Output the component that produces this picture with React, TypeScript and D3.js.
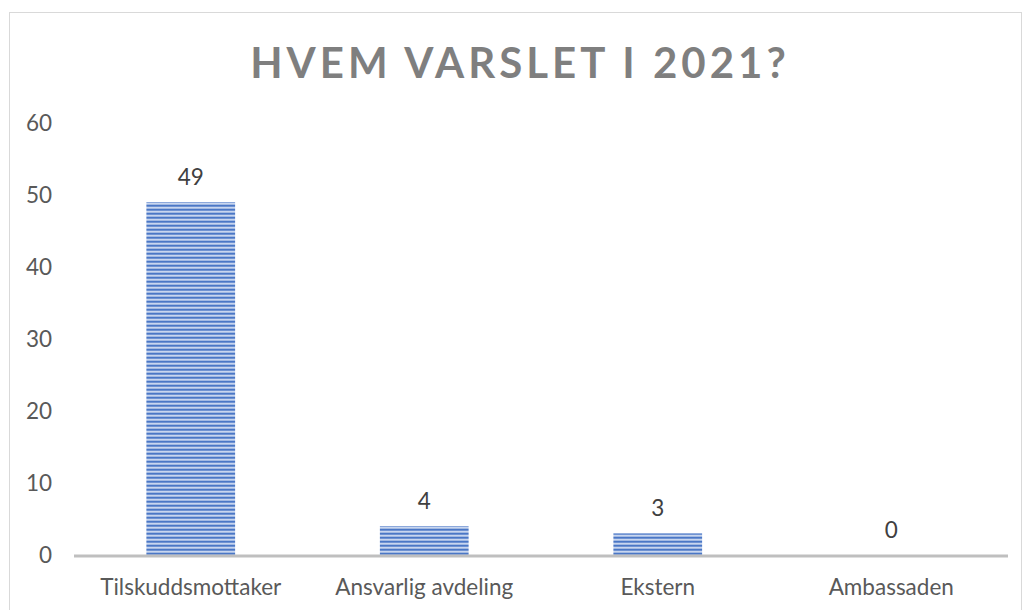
import React from "react";
import * as d3 from "d3";

const categories: string[] = ["Tilskuddsmottaker", "Ansvarlig avdeling", "Ekstern", "Ambassaden"];
const values: number[] = [49, 4, 3, 0];
const yTicks: number[] = [0, 10, 20, 30, 40, 50, 60];
const title = "HVEM VARSLET I 2021?";

const W = 1023;
const H = 610;
const FONT = "Lato, 'Open Sans', sans-serif";
const FS = 22.5;

export default function App() {
  const x = d3.scaleBand<string>().domain(categories).range([74, 1008]).paddingInner(0.62).paddingOuter(0.31);
  const y = d3.scaleLinear().domain([0, 60]).range([555, 123]);
  const base = y(0);

  return (
    <svg width={W} height={H} style={{ position: "absolute", left: 0, top: 0, background: "#fff" }}>
      <defs>
        <pattern id="stripes" width={8} height={4} patternUnits="userSpaceOnUse">
          <rect x={0} y={0} width={8} height={4} fill="#c8d6ef" />
          <rect x={0} y={0.7} width={8} height={2.0} fill="#4a77c6" />
        </pattern>
      </defs>
      <rect x={9.5} y={12.5} width={1012} height={620} fill="#fff" stroke="#d9d9d9" strokeWidth={1} />
      <text
        x={520}
        y={78}
        textAnchor="middle"
        fontFamily={FONT}
        fontWeight={700}
        fontSize={42}
        letterSpacing={4}
        fill="#7f7f7f"
      >
        {title}
      </text>
      {yTicks.map((t) => (
        <text key={t} x={52} y={y(t)} dy="0.35em" textAnchor="end" fontFamily={FONT} fontSize={FS} fill="#595959">
          {t}
        </text>
      ))}
      {categories.map((c, i) => {
        const bx = x(c) as number;
        const bw = x.bandwidth();
        const top = y(values[i]);
        return (
          <g key={c}>
            {values[i] > 0 && (
              <rect x={bx} y={top} width={bw} height={base - top} fill="url(#stripes)" />
            )}
            <text x={bx + bw / 2} y={top - 17} textAnchor="middle" fontFamily={FONT} fontSize={FS} fill="#404040">
              {values[i]}
            </text>
            <text x={bx + bw / 2} y={595} textAnchor="middle" fontFamily={FONT} fontSize={FS} fill="#595959">
              {c}
            </text>
          </g>
        );
      })}
      <line x1={74} x2={1008} y1={base + 1} y2={base + 1} stroke="#bfbfbf" strokeWidth={3} />
    </svg>
  );
}
